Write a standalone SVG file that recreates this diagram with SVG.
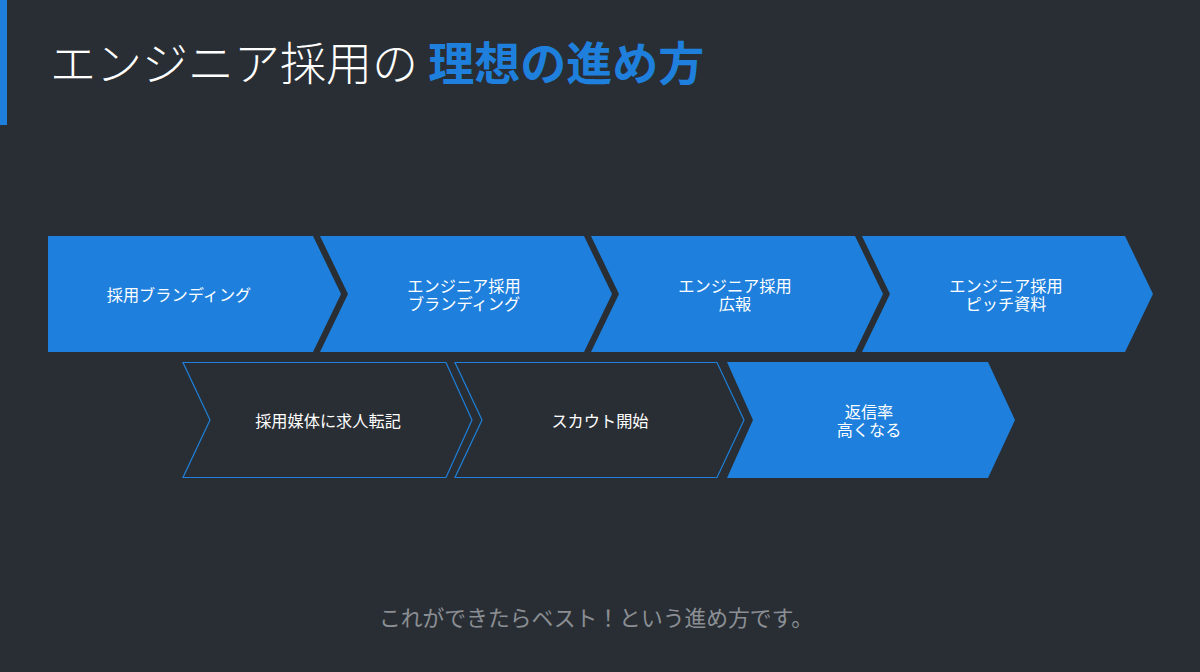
<svg xmlns="http://www.w3.org/2000/svg" width="1200" height="672" viewBox="0 0 1200 672">
<style>
.bg{fill:#292e34}
.solid{fill:#1e80dc}
.outline{fill:#292e34;stroke:#1e80dc;stroke-width:1.2}
.t{font-family:"Noto Sans CJK JP","Noto Sans",sans-serif;font-size:16.2px;fill:#ffffff;text-anchor:middle;dominant-baseline:central}
.title{font-family:"Noto Sans CJK JP","Noto Sans",sans-serif;font-size:46px}
.foot{font-family:"Noto Sans CJK JP","Noto Sans",sans-serif;font-size:21.8px;fill:#8b8f94;text-anchor:middle}
</style>
<rect class="bg" x="0" y="0" width="1200" height="672"/>
<rect x="0" y="0" width="7" height="125" fill="#1e80dc"/>
<text class="title" x="50" y="80"><tspan fill="#ffffff" font-weight="300">エンジニア採用の </tspan><tspan fill="#1e80dc" font-weight="700">理想の進め方</tspan></text>

<g id="node1"><polygon class="solid" points="48,236 313,236 341,294 313,352 48,352"/><text class="t" x="179" y="294">採用ブランディング</text></g>
<g id="node2"><polygon class="solid" points="320,236 584,236 612,294 584,352 320,352 348,294"/><text class="t"><tspan x="464" y="285">エンジニア採用</tspan><tspan x="464" y="303">ブランディング</tspan></text></g>
<g id="node3"><polygon class="solid" points="591,236 855,236 883,294 855,352 591,352 619,294"/><text class="t"><tspan x="735" y="285">エンジニア採用</tspan><tspan x="735" y="303">広報</tspan></text></g>
<g id="node4"><polygon class="solid" points="862,236 1125,236 1153,294 1125,352 862,352 890,294"/><text class="t"><tspan x="1006" y="285">エンジニア採用</tspan><tspan x="1006" y="303">ピッチ資料</tspan></text></g>

<g id="node5"><polygon class="outline" points="183,362.5 446,362.5 472,420 446,477.5 183,477.5 210,420"/><text class="t" x="328" y="420">採用媒体に求人転記</text></g>
<g id="node6"><polygon class="outline" points="455,362.5 717,362.5 744,420 717,477.5 455,477.5 482,420"/><text class="t" x="600" y="420">スカウト開始</text></g>
<g id="node7"><polygon class="solid" points="727,362 988,362 1015,420 988,478 727,478 753,420"/><text class="t"><tspan x="869" y="411">返信率</tspan><tspan x="869" y="429">高くなる</tspan></text></g>

<g id="connectors"></g>

<text class="foot" x="596" y="626">これができたらベスト！という進め方です。</text>
</svg>
